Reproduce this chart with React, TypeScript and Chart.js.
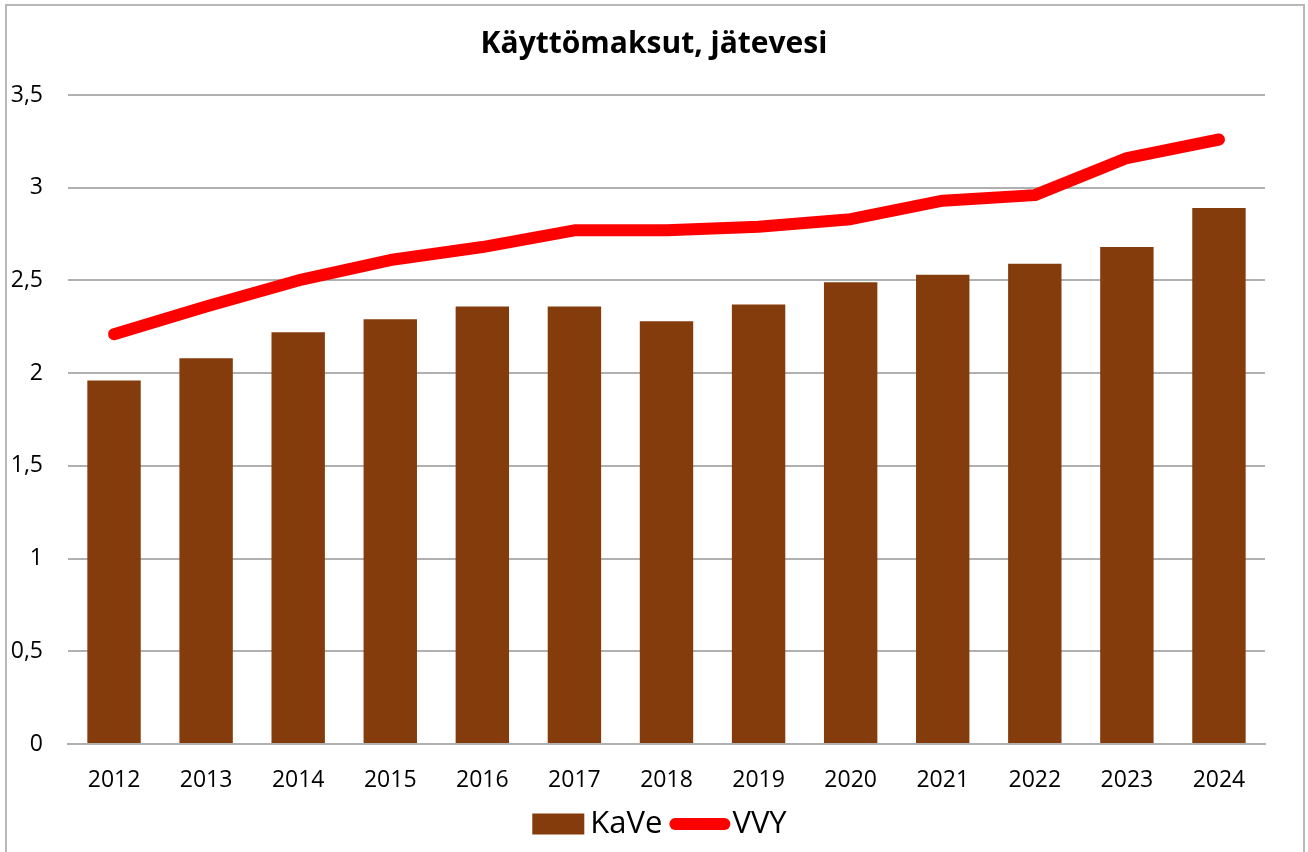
import React, { useEffect, useRef } from "react";
import { Chart, registerables } from "chart.js";

Chart.register(...registerables);

const years = ["2012", "2013", "2014", "2015", "2016", "2017", "2018", "2019", "2020", "2021", "2022", "2023", "2024"];
const kaveValues = [1.96, 2.08, 2.22, 2.29, 2.36, 2.36, 2.28, 2.37, 2.49, 2.53, 2.59, 2.68, 2.89];
const vvyValues = [2.21, 2.36, 2.5, 2.61, 2.68, 2.77, 2.77, 2.79, 2.83, 2.93, 2.96, 3.16, 3.26];
const seriesNames = ["KaVe", "VVY"];
const titleText = "Käyttömaksut, jätevesi";

const BROWN = "#843C0C";
const RED = "#FF0000";
const FONT = "'Open Sans', 'Noto Sans', sans-serif";

const legendPlugin = {
  id: "customLegend",
  afterDraw(chart: any) {
    const ctx = chart.ctx as CanvasRenderingContext2D;
    const area = chart.chartArea;
    ctx.save();
    ctx.font = `31px ${FONT}`;
    ctx.textBaseline = "middle";
    ctx.fillStyle = "#000";
    const w1 = ctx.measureText(seriesNames[0]).width;
    const w2 = ctx.measureText(seriesNames[1]).width;
    const boxW = 52, boxH = 21, lineW = 49;
    const total = boxW + 6 + w1 + 13 + lineW + 8 + w2;
    const cy = area.bottom + 80;
    let x = (area.left + area.right) / 2 - total / 2 - 7;
    ctx.fillStyle = BROWN;
    ctx.fillRect(x, cy - boxH / 2, boxW, boxH);
    x += boxW + 6;
    ctx.fillStyle = "#000";
    ctx.fillText(seriesNames[0], x, cy);
    x += w1 + 13;
    ctx.strokeStyle = RED;
    ctx.lineWidth = 12;
    ctx.lineCap = "round";
    ctx.beginPath();
    ctx.moveTo(x, cy);
    ctx.lineTo(x + lineW, cy);
    ctx.stroke();
    x += lineW + 8;
    ctx.fillText(seriesNames[1], x, cy);
    ctx.restore();
  },
};

export default function App() {
  const ref = useRef<HTMLCanvasElement | null>(null);

  useEffect(() => {
    document.body.style.margin = "0";
    const ctx = ref.current!.getContext("2d")!;
    const chart = new Chart(ctx, {
      type: "bar",
      data: {
        labels: years,
        datasets: [
          {
            type: "line",
            label: seriesNames[1],
            data: vvyValues,
            borderColor: RED,
            backgroundColor: RED,
            borderWidth: 12,
            borderCapStyle: "round",
            borderJoinStyle: "round",
            pointRadius: 0,
            tension: 0,
            order: 0,
          } as any,
          {
            type: "bar",
            label: seriesNames[0],
            data: kaveValues,
            backgroundColor: BROWN,
            borderWidth: 0,
            categoryPercentage: 0.58,
            barPercentage: 1,
            order: 1,
          },
        ],
      },
      options: {
        responsive: false,
        animation: false,
        layout: { padding: { left: 0, right: 0, top: 0, bottom: 58 } },
        plugins: {
          tooltip: { enabled: false },
          legend: { display: false },
          title: {
            display: true,
            text: titleText,
            color: "#000",
            font: { family: FONT, size: 30, weight: "bold" },
            padding: { top: 26, bottom: 33 },
          },
        },
        scales: {
          x: {
            afterFit: (s: any) => {
              s.height = 50;
            },
            grid: { display: false, drawTicks: false },
            border: { display: true, color: "#b0b0b0", width: 2 },
            ticks: { color: "#000", font: { family: FONT, size: 23 }, padding: 23 },
          },
          y: {
            min: 0,
            max: 3.5,
            afterFit: (s: any) => {
              s.width = 68;
            },
            grid: { color: "#b0b0b0", lineWidth: 2, drawTicks: false },
            border: { display: false },
            ticks: {
              stepSize: 0.5,
              color: "#000",
              padding: 25,
              font: { family: FONT, size: 23 },
              callback: (v: any) => String(v).replace(".", ","),
            },
          },
          yRight: {
            position: "right",
            min: 0,
            max: 3.5,
            afterFit: (s: any) => {
              s.width = 43;
            },
            grid: { display: false, drawTicks: false },
            border: { display: false },
            ticks: { display: false },
          },
        },
      },
      plugins: [legendPlugin],
    });
    return () => chart.destroy();
  }, []);

  return (
    <div style={{ position: "relative", width: 1308, height: 852, overflow: "hidden", background: "#fff" }}>
      <div
        style={{
          position: "absolute",
          left: 5,
          top: 4,
          width: 1300,
          height: 900,
          border: "2px solid #b8b8b8",
          boxSizing: "border-box",
        }}
      />
      <canvas ref={ref} width={1308} height={852} style={{ position: "absolute", left: 0, top: 0 }} />
    </div>
  );
}
